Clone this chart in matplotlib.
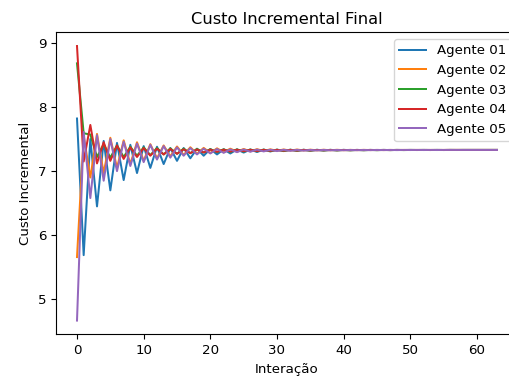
import matplotlib
matplotlib.use("Agg")
import matplotlib.pyplot as plt

iteracoes = list(range(64))

agente_01 = [7.82, 5.69, 7.50, 6.45, 7.47, 6.70, 7.44, 6.86,
             7.41, 6.97, 7.39, 7.05, 7.38, 7.11, 7.36, 7.16,
             7.36, 7.20, 7.35, 7.24, 7.345, 7.26, 7.34, 7.275,
             7.339, 7.289, 7.337, 7.298, 7.335, 7.306, 7.334, 7.312,
             7.333, 7.317, 7.332, 7.319, 7.332, 7.322, 7.331, 7.324,
             7.331, 7.326, 7.330, 7.327, 7.330, 7.328, 7.330, 7.328,
             7.330, 7.329, 7.330, 7.329, 7.330, 7.329, 7.330, 7.329,
             7.330, 7.329, 7.330, 7.330, 7.330, 7.330, 7.330, 7.330]

agente_02 = [5.66, 7.55, 6.90, 7.58, 6.97, 7.52, 7.05, 7.48,
             7.11, 7.45, 7.16, 7.42, 7.20, 7.40, 7.23, 7.384,
             7.252, 7.372, 7.270, 7.362, 7.283, 7.355, 7.294, 7.350,
             7.302, 7.345, 7.308, 7.342, 7.313, 7.339, 7.317, 7.337,
             7.320, 7.336, 7.322, 7.334, 7.324, 7.333, 7.325, 7.332,
             7.326, 7.331, 7.327, 7.331, 7.328, 7.330, 7.328, 7.330,
             7.329, 7.330, 7.329, 7.330, 7.329, 7.330, 7.329, 7.330,
             7.330, 7.330, 7.330, 7.330, 7.330, 7.330, 7.330, 7.330]

agente_03 = [8.68, 7.59, 7.57, 7.22, 7.42, 7.21, 7.40, 7.22,
             7.38, 7.24, 7.37, 7.25, 7.36, 7.26, 7.355, 7.27,
             7.35, 7.28, 7.345, 7.29, 7.342, 7.296, 7.340, 7.300,
             7.338, 7.305, 7.336, 7.309, 7.335, 7.312, 7.334, 7.315,
             7.333, 7.318, 7.332, 7.320, 7.331, 7.322, 7.331, 7.324,
             7.330, 7.325, 7.330, 7.326, 7.330, 7.327, 7.330, 7.328,
             7.330, 7.328, 7.330, 7.329, 7.330, 7.329, 7.330, 7.329,
             7.330, 7.330, 7.330, 7.330, 7.330, 7.330, 7.330, 7.330]

agente_04 = [8.95, 7.15, 7.72, 7.12, 7.45, 7.16, 7.40, 7.19,
             7.37, 7.22, 7.36, 7.24, 7.35, 7.26, 7.345, 7.27,
             7.340, 7.28, 7.338, 7.29, 7.336, 7.300, 7.335, 7.305,
             7.334, 7.310, 7.333, 7.313, 7.332, 7.316, 7.332, 7.318,
             7.331, 7.320, 7.331, 7.322, 7.330, 7.324, 7.330, 7.325,
             7.330, 7.326, 7.330, 7.327, 7.330, 7.328, 7.330, 7.328,
             7.330, 7.329, 7.330, 7.329, 7.330, 7.329, 7.330, 7.329,
             7.330, 7.330, 7.330, 7.330, 7.330, 7.330, 7.330, 7.330]

agente_05 = [4.67, 7.61, 6.58, 7.56, 6.85, 7.50, 7.00, 7.46,
             7.08, 7.43, 7.14, 7.41, 7.18, 7.39, 7.21, 7.37,
             7.24, 7.36, 7.26, 7.35, 7.275, 7.345, 7.285, 7.340,
             7.295, 7.338, 7.302, 7.336, 7.307, 7.334, 7.312, 7.333,
             7.316, 7.332, 7.319, 7.331, 7.322, 7.331, 7.324, 7.330,
             7.325, 7.330, 7.326, 7.330, 7.327, 7.330, 7.328, 7.330,
             7.328, 7.330, 7.329, 7.330, 7.329, 7.330, 7.329, 7.330,
             7.330, 7.330, 7.330, 7.330, 7.330, 7.330, 7.330, 7.330]

series = [agente_01, agente_02, agente_03, agente_04, agente_05]
rotulos = ["Agente 01", "Agente 02", "Agente 03", "Agente 04", "Agente 05"]

plt.rcParams["font.family"] = ["DejaVu Sans"]
plt.rcParams["font.size"] = 9.6

fig = plt.figure(figsize=(5.10, 3.78), dpi=100)
ax = fig.add_axes([56 / 510, (378 - 334.3) / 378, 462 / 510, 302 / 378])

for valores, rotulo in zip(series, rotulos):
    ax.plot(iteracoes, valores, label=rotulo, linewidth=1.44)

ax.set_title("Custo Incremental Final", fontsize=11.7)
ax.set_xlabel("Interação", fontsize=9.6)
ax.set_ylabel("Custo Incremental", fontsize=9.6)
ax.tick_params(labelsize=9.6)
ax.legend(loc="upper right", fontsize=9.6)

fig.savefig("out.png", dpi=100)
